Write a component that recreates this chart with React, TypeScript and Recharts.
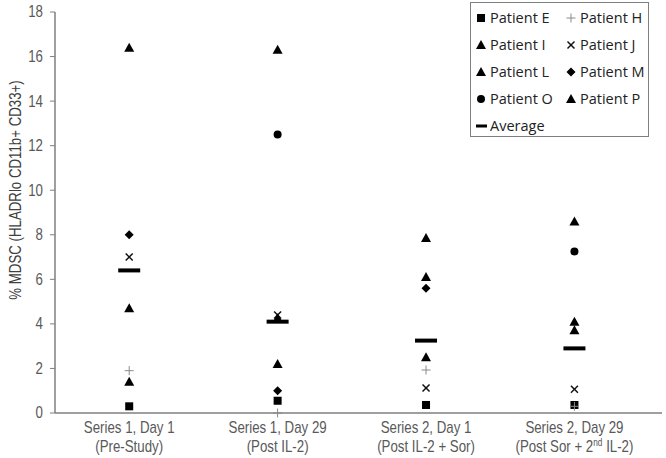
import { ScatterChart, Scatter, XAxis, YAxis } from "recharts";

// category labels (two lines each)
const catLine1 = [
  "Series 1, Day 1",
  "Series 1, Day 29",
  "Series 2, Day 1",
  "Series 2, Day 29",
];
const catLine2 = ["(Pre-Study)", "(Post IL-2)", "(Post IL-2 + Sor)", "(Post Sor + 2nd IL-2)"];

// % MDSC per category, null = not measured
const patientE = [0.3, 0.55, 0.36, 0.36];
const patientH = [1.9, 0.0, 1.93, 0.3];
const patientI = [16.4, 16.3, 7.85, 8.6];
const patientJ = [7.0, 4.4, 1.12, 1.07];
const patientL = [4.7, 4.25, 6.1, 4.1];
const patientM = [8.0, 1.0, 5.6, null];
const patientO = [null, 12.5, null, 7.25];
const patientP = [1.4, 2.2, 2.5, 3.72];
const average = [6.4, 4.1, 3.25, 2.9];

const yTicks = [0, 2, 4, 6, 8, 10, 12, 14, 16, 18];

const toPoints = (vals: (number | null)[]) =>
  vals
    .map((v, i) => (v == null ? null : { x: i + 1, y: v }))
    .filter((p) => p !== null) as { x: number; y: number }[];

type Kind = "square" | "plus" | "triangle" | "cross" | "diamond" | "circle" | "avg";

const Marker = ({ kind, cx, cy }: { kind: Kind; cx: number; cy: number }) => {
  switch (kind) {
    case "square":
      return <rect x={cx - 4} y={cy - 4} width={8} height={8} fill="#000" />;
    case "triangle":
      return (
        <polygon
          points={`${cx},${cy - 5} ${cx - 5},${cy + 4} ${cx + 5},${cy + 4}`}
          fill="#000"
        />
      );
    case "diamond":
      return (
        <polygon
          points={`${cx},${cy - 4.5} ${cx + 4.5},${cy} ${cx},${cy + 4.5} ${cx - 4.5},${cy}`}
          fill="#000"
        />
      );
    case "circle":
      return <circle cx={cx} cy={cy} r={4} fill="#000" />;
    case "cross":
      return (
        <g stroke="#111" strokeWidth={1.5}>
          <line x1={cx - 3.5} y1={cy - 3.5} x2={cx + 3.5} y2={cy + 3.5} />
          <line x1={cx - 3.5} y1={cy + 3.5} x2={cx + 3.5} y2={cy - 3.5} />
        </g>
      );
    case "plus":
      return (
        <g stroke="#8a8a8a" strokeWidth={1}>
          <line x1={cx - 4.5} y1={cy} x2={cx + 4.5} y2={cy} />
          <line x1={cx} y1={cy - 4.5} x2={cx} y2={cy + 4.5} />
        </g>
      );
    case "avg":
      return <rect x={cx - 11} y={cy - 2} width={22} height={4} fill="#000" />;
  }
  return null;
};

const series: { name: string; vals: (number | null)[]; kind: Kind }[] = [
  { name: "Patient E", vals: patientE, kind: "square" },
  { name: "Patient H", vals: patientH, kind: "plus" },
  { name: "Patient I", vals: patientI, kind: "triangle" },
  { name: "Patient J", vals: patientJ, kind: "cross" },
  { name: "Patient L", vals: patientL, kind: "triangle" },
  { name: "Patient M", vals: patientM, kind: "diamond" },
  { name: "Patient O", vals: patientO, kind: "circle" },
  { name: "Patient P", vals: patientP, kind: "triangle" },
  { name: "Average", vals: average, kind: "avg" },
];

const axisFont = "'Liberation Sans', Arial, sans-serif";
const NARROW = 0.83;

const CategoryTick = (props: any) => {
  const { x, payload } = props;
  const i = payload.value - 1;
  const l2 = catLine2[i];
  const sup = l2.indexOf("2nd");
  // axis sits at y = 413
  return (
    <g transform={`translate(${x} 413) scale(${NARROW} 1)`}>
      <text x={0} y={20} textAnchor="middle" fontSize={16} fill="#595959" fontFamily={axisFont}>
        {catLine1[i]}
      </text>
      <text x={0} y={39} textAnchor="middle" fontSize={16} fill="#595959" fontFamily={axisFont}>
        {sup >= 0 ? (
          <>
            {l2.slice(0, sup + 1)}
            <tspan fontSize={10} dy={-6}>
              {l2.slice(sup + 1, sup + 3)}
            </tspan>
            <tspan dy={6}>{l2.slice(sup + 3)}</tspan>
          </>
        ) : (
          l2
        )}
      </text>
    </g>
  );
};

const ValueTick = (props: any) => {
  const { x, y, payload } = props;
  return (
    <g transform={`translate(${x} ${y}) scale(${NARROW} 1)`}>
      <text x={0} y={0} textAnchor="end" dominantBaseline="central" fontSize={16} fill="#595959" fontFamily={axisFont}>
        {payload.value}
      </text>
    </g>
  );
};

const LegendBox = () => (
  <div
    style={{
      position: "absolute",
      left: 470,
      top: 2,
      border: "1px solid #7f7f7f",
      background: "#fff",
      width: 179,
      height: 135,
      boxSizing: "border-box",
      padding: "1px 0 0 5px",
      fontFamily: "'Open Sans', 'Noto Sans', sans-serif",
      fontSize: 14.5,
      color: "#222",
      display: "grid",
      gridTemplateColumns: "90px 86px",
      gridAutoRows: "27px",
      alignItems: "center",
    }}
  >
    {series.map((s) => (
      <div key={s.name} style={{ display: "flex", alignItems: "center", whiteSpace: "nowrap" }}>
        <svg width={12} height={14} style={{ marginRight: 2 }}>
          {s.kind === "avg" ? (
            <rect x={0} y={5.5} width={11} height={3} fill="#000" />
          ) : (
            <Marker kind={s.kind} cx={5} cy={7} />
          )}
        </svg>
        <span>{s.name}</span>
      </div>
    ))}
  </div>
);

export default function App() {
  return (
    <div style={{ position: "absolute", left: 0, top: 0, width: 666, height: 458, background: "#fff" }}>
      <ScatterChart width={666} height={458} margin={{ top: 12, right: 4, bottom: 0, left: 0 }}>
        <XAxis
          type="number"
          dataKey="x"
          domain={[0.5, 4.59]}
          ticks={[1, 2, 3, 4]}
          allowDataOverflow
          height={45}
          tickLine={false}
          axisLine={{ stroke: "#7f7f7f", strokeWidth: 1.5 }}
          tick={<CategoryTick />}
          interval={0}
        />
        <YAxis
          type="number"
          dataKey="y"
          domain={[0, 18]}
          ticks={yTicks}
          width={55}
          tickSize={5}
          tickMargin={7}
          axisLine={{ stroke: "#7f7f7f", strokeWidth: 1.5 }}
          tickLine={{ stroke: "#7f7f7f" }}
          tick={<ValueTick />}
          label={{
            content: () => (
              <g transform={`translate(16 190) rotate(-90) scale(${NARROW} 1)`}>
                <text
                  x={0}
                  y={0}
                  textAnchor="middle"
                  dominantBaseline="central"
                  fontSize={16}
                  fill="#404040"
                  fontFamily={axisFont}
                >
                  % MDSC (HLADRlo CD11b+ CD33+)
                </text>
              </g>
            ),
          }}
        />
        {series.map((s) => (
          <Scatter
            key={s.name}
            name={s.name}
            data={toPoints(s.vals)}
            isAnimationActive={false}
            shape={(p: any) => <Marker kind={s.kind} cx={p.cx} cy={p.cy} />}
          />
        ))}
      </ScatterChart>
      <LegendBox />
    </div>
  );
}
